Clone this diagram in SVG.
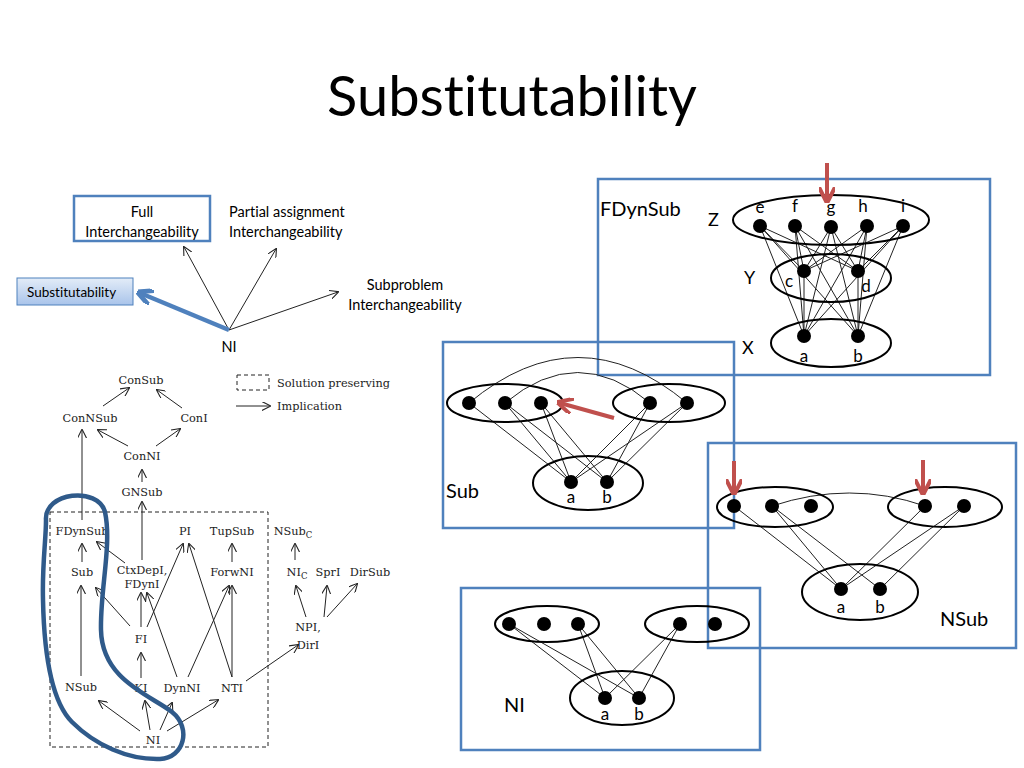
<svg xmlns="http://www.w3.org/2000/svg" width="1024" height="768" viewBox="0 0 1024 768">
<defs>
<style>
.t{font-family:Lato,"Open Sans",sans-serif;fill:#000;font-variant-ligatures:none}
.s{font-family:"DejaVu Serif","Liberation Serif",serif;font-size:11.3px;fill:#222;text-anchor:middle}
.sl{text-anchor:start}
.l{stroke:#222;stroke-width:1;fill:none}
.la{stroke:#222;stroke-width:1;fill:none;marker-end:url(#oa)}
.e{fill:none;stroke:#000;stroke-width:2}
.n{fill:#000}
.p{fill:none;stroke:#4f81bd;stroke-width:2.5}
.r{stroke:#c0504d;stroke-width:4;fill:none;marker-end:url(#ra)}
</style>
<marker id="oa" viewBox="0 0 10 10" refX="9" refY="5" markerWidth="9" markerHeight="9" orient="auto" markerUnits="userSpaceOnUse"><path d="M0,0 L10,5 L0,10" fill="none" stroke="#222" stroke-width="1.2"/></marker>
<marker id="ra" viewBox="0 0 10 10" refX="8" refY="5" markerWidth="4" markerHeight="4" orient="auto"><path d="M0,0 L10,5 L0,10" fill="none" stroke="#c0504d" stroke-width="2.5"/></marker>
<marker id="ba" viewBox="0 0 10 10" refX="8" refY="5" markerWidth="3.5" markerHeight="3.5" orient="auto"><path d="M0,0 L10,5 L0,10" fill="none" stroke="#4f81bd" stroke-width="3"/></marker>
<linearGradient id="g" x1="0" y1="0" x2="0" y2="1"><stop offset="0" stop-color="#e3ecf8"/><stop offset="1" stop-color="#a9c4ea"/></linearGradient>
</defs>
<rect width="1024" height="768" fill="#fff"/>
<text class="t" x="512" y="116" font-size="56" text-anchor="middle">Substitutability</text>

<g id="top-left">
<rect x="74" y="196" width="136" height="45" fill="#fff" stroke="#4f81bd" stroke-width="2.5"/>
<text class="t" font-size="14.5" text-anchor="middle"><tspan x="142" y="217">Full</tspan><tspan x="142" y="237">Interchangeability</tspan></text>
<text class="t" font-size="14.5"><tspan x="229" y="217">Partial assignment</tspan><tspan x="229" y="237">Interchangeability</tspan></text>
<rect x="17" y="278" width="116" height="27" fill="url(#g)" stroke="#4f81bd" stroke-width="1"/>
<text class="t" font-size="13.5" x="27" y="297">Substitutability</text>
<text class="t" font-size="14.5" text-anchor="middle"><tspan x="405" y="290">Subproblem</tspan><tspan x="405" y="310">Interchangeability</tspan></text>
<text class="t" font-size="14.5" x="229" y="352" text-anchor="middle">NI</text>
<path class="la" d="M229,330 L184,247"/>
<path class="la" d="M229,330 L276,249"/>
<path class="la" d="M229,330 L338,292"/>
<path d="M229,330 L140,293" stroke="#4f81bd" stroke-width="4.5" fill="none" marker-end="url(#ba)"/>
</g>

<g id="lattice">
<rect x="50" y="512" width="218" height="235" fill="none" stroke="#222" stroke-dasharray="4,3"/>
<rect x="237" y="375" width="32" height="15" fill="none" stroke="#222" stroke-dasharray="4,3"/>
<text class="s sl" x="277" y="387">Solution preserving</text>
<path class="la" d="M236,406 L270,406"/>
<text class="s sl" x="277" y="410">Implication</text>
<text class="s" x="141" y="384">ConSub</text>
<text class="s" x="90" y="422">ConNSub</text>
<text class="s" x="194" y="422">ConI</text>
<text class="s" x="142" y="460">ConNI</text>
<text class="s" x="142" y="496">GNSub</text>
<text class="s" x="82" y="535">FDynSub</text>
<text class="s" x="185" y="535">PI</text>
<text class="s" x="232" y="535">TupSub</text>
<text class="s" x="293" y="535">NSub<tspan font-size="8.5" dy="3">C</tspan></text>
<text class="s" x="82" y="576">Sub</text>
<text class="s" x="142" y="574">CtxDepI,</text>
<text class="s" x="142" y="588">FDynI</text>
<text class="s" x="232" y="576">ForwNI</text>
<text class="s" x="297" y="576">NI<tspan font-size="8.5" dy="3">C</tspan></text>
<text class="s" x="328" y="576">SprI</text>
<text class="s" x="370" y="576">DirSub</text>
<text class="s" x="141" y="643">FI</text>
<text class="s" x="308" y="631">NPI,</text>
<text class="s" x="308" y="649">DirI</text>
<text class="s" x="81" y="691">NSub</text>
<text class="s" x="141" y="692">KI</text>
<text class="s" x="182" y="692">DynNI</text>
<text class="s" x="232" y="692">NTI</text>
<text class="s" x="153" y="744">NI</text>
</g>
<g id="lattice-edges">
<path class="la" d="M103,406 L129,388"/>
<path class="la" d="M182,408 L157,390"/>
<path class="la" d="M128,446 L98,430"/>
<path class="la" d="M156,446 L180,429"/>
<path class="la" d="M142,482 L142,470"/>
<path class="la" d="M82,520 L82,430"/>
<path class="la" d="M142,560 L142,502"/>
<path class="la" d="M82,562 L82,544"/>
<path class="la" d="M125,563 L97,542"/>
<path class="la" d="M130,626 L96,588"/>
<path class="la" d="M141,627 L141,593"/>
<path class="la" d="M147,627 L183,544"/>
<path class="la" d="M177,677 L147,593"/>
<path class="la" d="M188,677 L229,586"/>
<path class="la" d="M232,677 L189,544"/>
<path class="la" d="M232,677 L232,586"/>
<path class="la" d="M232,562 L232,544"/>
<path class="la" d="M81,676 L81,586"/>
<path class="la" d="M141,678 L141,653"/>
<path class="la" d="M140,731 L99,701"/>
<path class="la" d="M150,730 L145,701"/>
<path class="la" d="M160,730 L172,703"/>
<path class="la" d="M167,731 L218,700"/>
<path class="la" d="M246,681 L298,645"/>
<path class="la" d="M306,617 L296,586"/>
<path class="la" d="M324,617 L327,586"/>
<path class="la" d="M327,617 L357,584"/>
<path class="la" d="M295,560 L295,544"/>
</g>
<path id="loop" d="M46,520 C44,492 98,486 105,512 C112,545 100,590 101,630 C102,680 150,695 172,712 C192,728 184,758 160,759 C128,760 95,745 72,722 C50,700 44,650 43,600 C42,565 46,540 46,520 Z" fill="none" stroke="#2f5a8a" stroke-width="4.5"/>

<g id="fdynsub">
<rect class="p" x="598" y="179" width="392" height="196"/>
<text class="t" font-size="20" x="600" y="216">FDynSub</text>
<text class="t" font-size="18" x="708" y="226">Z</text>
<text class="t" font-size="18" x="744" y="284">Y</text>
<text class="t" font-size="18" x="742" y="354">X</text>
<g class="l">
<path d="M760,226 L804,271 M760,226 L858,271 M760,226 L804,336 M760,226 L858,336"/>
<path d="M795,226 L804,271 M795,226 L858,271 M795,226 L804,336 M795,226 L858,336"/>
<path d="M831,227 L804,271 M831,227 L858,271 M831,227 L804,336 M831,227 L858,336"/>
<path d="M867,226 L804,271 M867,226 L858,271 M867,226 L804,336 M867,226 L858,336"/>
<path d="M903,226 L804,271 M903,226 L858,271 M903,226 L804,336 M903,226 L858,336"/>
<path d="M804,271 L804,336 M858,271 L858,336"/>
</g>
<ellipse class="e" cx="831" cy="220" rx="98" ry="25"/>
<ellipse class="e" cx="831" cy="278" rx="60" ry="24"/>
<ellipse class="e" cx="831" cy="343" rx="60" ry="24"/>
<g class="n"><circle cx="760" cy="226" r="7"/><circle cx="795" cy="226" r="7"/><circle cx="831" cy="227" r="7"/><circle cx="867" cy="226" r="7"/><circle cx="903" cy="226" r="7"/><circle cx="804" cy="271" r="7"/><circle cx="858" cy="271" r="7"/><circle cx="804" cy="336" r="7"/><circle cx="858" cy="336" r="7"/></g>
<g class="t" font-size="17" text-anchor="middle"><text x="760" y="213">e</text><text x="795" y="212">f</text><text x="831" y="213">g</text><text x="863" y="212">h</text><text x="903" y="212">i</text><text x="789" y="287">c</text><text x="866" y="292">d</text><text x="804" y="362">a</text><text x="858" y="362">b</text></g>
<path class="r" d="M827,163 L827,200"/>
</g>

<g id="sub">
<rect class="p" x="443" y="342" width="291" height="186"/>
<text class="t" font-size="20" x="446" y="498">Sub</text>
<g class="l">
<path d="M469,403 Q578,312 687,403 M505,403 Q578,342 650,403"/>
<path d="M469,403 L571,482 M505,403 L571,482 M505,403 L607,482 M541,403 L571,482 M541,403 L607,482"/>
<path d="M650,403 L571,482 M650,403 L607,482 M687,403 L571,482 M687,403 L607,482"/>
</g>
<ellipse class="e" cx="505" cy="403" rx="58" ry="19"/>
<ellipse class="e" cx="669" cy="403" rx="56" ry="19"/>
<ellipse class="e" cx="588" cy="483" rx="55" ry="27"/>
<g class="n"><circle cx="469" cy="403" r="7"/><circle cx="505" cy="403" r="7"/><circle cx="541" cy="403" r="7"/><circle cx="650" cy="403" r="7"/><circle cx="687" cy="403" r="7"/><circle cx="571" cy="482" r="7"/><circle cx="607" cy="482" r="7"/></g>
<g class="t" font-size="17" text-anchor="middle"><text x="571" y="503">a</text><text x="607" y="503">b</text></g>
<path class="r" d="M614,418 L560,403"/>
</g>

<g id="nsub">
<rect class="p" x="708" y="443" width="308" height="205"/>
<text class="t" font-size="20" x="940" y="626">NSub</text>
<g class="l">
<path d="M772,506 Q850,480 925,506"/>
<path d="M734,506 L841,589 M772,506 L841,589 M772,506 L880,589 M925,506 L841,589 M964,506 L841,589 M964,506 L880,589"/>
</g>
<ellipse class="e" cx="775" cy="507" rx="58" ry="20"/>
<ellipse class="e" cx="945" cy="507" rx="57" ry="20"/>
<ellipse class="e" cx="860" cy="592" rx="58" ry="28"/>
<g class="n"><circle cx="734" cy="506" r="7"/><circle cx="772" cy="506" r="7"/><circle cx="811" cy="506" r="7"/><circle cx="925" cy="506" r="7"/><circle cx="964" cy="506" r="7"/><circle cx="841" cy="589" r="7"/><circle cx="880" cy="589" r="7"/></g>
<g class="t" font-size="17" text-anchor="middle"><text x="841" y="613">a</text><text x="880" y="613">b</text></g>
<path class="r" d="M734,461 L734,492"/>
<path class="r" d="M923,460 L923,492"/>
</g>

<g id="ni">
<rect class="p" x="461" y="588" width="299" height="162"/>
<text class="t" font-size="20" x="504" y="712">NI</text>
<g class="l">
<path d="M509,624 L605,698 M509,624 L639,698 M578,624 L605,698 M578,624 L639,698 M680,624 L605,698 M680,624 L639,698"/>
</g>
<ellipse class="e" cx="547" cy="624" rx="52" ry="18"/>
<ellipse class="e" cx="697" cy="624" rx="52" ry="18"/>
<ellipse class="e" cx="622" cy="698" rx="52" ry="27"/>
<g class="n"><circle cx="509" cy="624" r="7"/><circle cx="544" cy="624" r="7"/><circle cx="578" cy="624" r="7"/><circle cx="680" cy="624" r="7"/><circle cx="715" cy="624" r="7"/><circle cx="605" cy="698" r="7"/><circle cx="639" cy="698" r="7"/></g>
<g class="t" font-size="17" text-anchor="middle"><text x="605" y="720">a</text><text x="639" y="720">b</text></g>
</g>
</svg>
